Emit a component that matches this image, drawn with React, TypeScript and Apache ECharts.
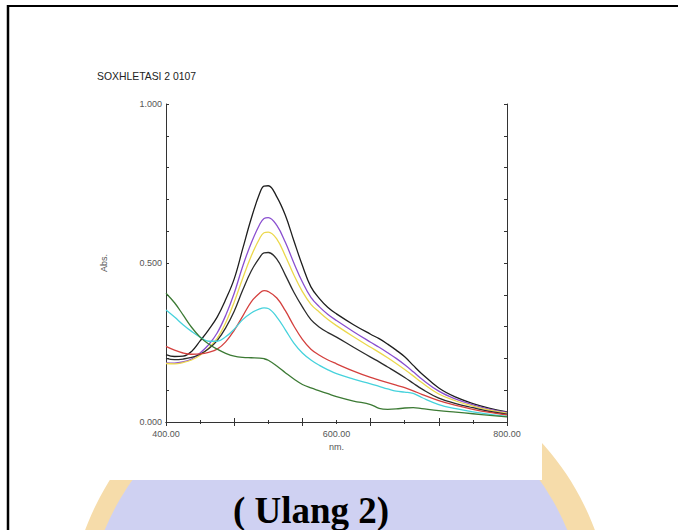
import React, { useEffect, useRef } from "react";
import * as echarts from "echarts";

const title = "SOXHLETASI 2 0107";
const caption = "( Ulang 2)";
const xTickLabels = [400, 600, 800];
const yTickLabels = [0, 0.5, 1];

const wavelength = [400, 410, 420, 430, 440, 450, 460, 470, 480, 490, 500, 510, 515, 520, 530, 540, 550, 560, 570, 580, 590, 600, 620, 640, 650, 660, 670, 680, 690, 700, 720, 740, 760, 780, 800];

const black1 = [0.212, 0.206, 0.207, 0.222, 0.255, 0.29, 0.33, 0.385, 0.45, 0.545, 0.64, 0.72, 0.742, 0.743, 0.708, 0.65, 0.57, 0.492, 0.425, 0.388, 0.36, 0.34, 0.306, 0.276, 0.262, 0.245, 0.226, 0.205, 0.178, 0.152, 0.107, 0.078, 0.058, 0.043, 0.032];
const purple = [0.186, 0.185, 0.189, 0.198, 0.217, 0.243, 0.28, 0.335, 0.405, 0.49, 0.563, 0.622, 0.64, 0.643, 0.618, 0.565, 0.5, 0.44, 0.392, 0.362, 0.338, 0.319, 0.284, 0.251, 0.235, 0.218, 0.2, 0.18, 0.158, 0.135, 0.097, 0.072, 0.054, 0.04, 0.03];
const yellow = [0.184, 0.183, 0.187, 0.195, 0.21, 0.232, 0.263, 0.312, 0.377, 0.452, 0.522, 0.578, 0.595, 0.597, 0.575, 0.522, 0.462, 0.41, 0.37, 0.345, 0.322, 0.303, 0.268, 0.235, 0.219, 0.202, 0.184, 0.165, 0.145, 0.124, 0.088, 0.066, 0.05, 0.037, 0.028];
const black2 = [0.2, 0.196, 0.198, 0.203, 0.213, 0.23, 0.256, 0.296, 0.348, 0.415, 0.475, 0.518, 0.532, 0.533, 0.512, 0.462, 0.408, 0.362, 0.322, 0.298, 0.281, 0.267, 0.235, 0.204, 0.189, 0.173, 0.157, 0.14, 0.122, 0.104, 0.075, 0.058, 0.045, 0.033, 0.025];
const red = [0.238, 0.226, 0.217, 0.213, 0.214, 0.219, 0.229, 0.252, 0.288, 0.333, 0.378, 0.406, 0.413, 0.41, 0.39, 0.35, 0.302, 0.26, 0.229, 0.21, 0.195, 0.183, 0.16, 0.14, 0.132, 0.124, 0.116, 0.108, 0.098, 0.087, 0.067, 0.052, 0.04, 0.03, 0.022];
const cyan = [0.352, 0.33, 0.306, 0.285, 0.267, 0.254, 0.254, 0.268, 0.292, 0.322, 0.343, 0.356, 0.359, 0.357, 0.33, 0.29, 0.248, 0.217, 0.195, 0.178, 0.164, 0.152, 0.135, 0.12, 0.112, 0.104, 0.097, 0.094, 0.09, 0.077, 0.055, 0.042, 0.032, 0.024, 0.018];
const green = [0.405, 0.375, 0.337, 0.298, 0.267, 0.245, 0.229, 0.216, 0.207, 0.203, 0.202, 0.201, 0.199, 0.194, 0.176, 0.155, 0.135, 0.118, 0.107, 0.098, 0.089, 0.08, 0.066, 0.055, 0.043, 0.04, 0.041, 0.044, 0.045, 0.042, 0.036, 0.031, 0.026, 0.021, 0.016];

const seriesDefs = [
  { name: "s1", values: black1, color: "#1e1e1e" },
  { name: "s2", values: purple, color: "#8a4fd0" },
  { name: "s3", values: yellow, color: "#ecd84c" },
  { name: "s4", values: black2, color: "#2c2c2c" },
  { name: "s5", values: red, color: "#d4403e" },
  { name: "s6", values: cyan, color: "#46d2dc" },
  { name: "s7", values: green, color: "#3c7a34" },
];

const labelStyle = { fontFamily: "Liberation Sans, Arial, sans-serif", fontSize: 9, color: "#555" };

export default function App() {
  const ref = useRef<HTMLDivElement>(null);
  useEffect(() => {
    if (!ref.current) return;
    const chart = echarts.init(ref.current, null, { renderer: "svg" });
    const tickLine = { color: "#333", width: 1 };
    const option: any = {
      animation: false,
      backgroundColor: "#fff",
      grid: { left: 166, top: 104, right: 171, bottom: 108, containLabel: false },
      xAxis: [
        {
          type: "value", position: "bottom", min: 400, max: 800, interval: 80,
          axisLine: { show: true, lineStyle: { color: "#333", width: 1 } },
          axisTick: { show: true, inside: true, length: 4, lineStyle: tickLine },
          minorTick: { show: true, splitNumber: 2, length: 2, lineStyle: tickLine },
          axisLabel: { show: false }, splitLine: { show: false }, minorSplitLine: { show: false },
        },
        {
          type: "value", position: "top", min: 400, max: 800, interval: 80,
          axisLine: { show: true, lineStyle: { color: "#333", width: 1 } },
          axisTick: { show: true, inside: true, length: 4, lineStyle: tickLine },
          minorTick: { show: true, splitNumber: 2, length: 2, lineStyle: tickLine },
          axisLabel: { show: false }, splitLine: { show: false },
        },
        {
          type: "value", position: "bottom", min: 400, max: 800, interval: 200,
          axisLine: { show: false }, axisTick: { show: false }, splitLine: { show: false },
          axisLabel: {
            ...labelStyle, margin: 7,
            formatter: (v: number) => (xTickLabels.includes(v) ? v.toFixed(2) : ""),
          },
          name: "nm.", nameLocation: "middle", nameGap: 18,
          nameTextStyle: { ...labelStyle },
        },
      ],
      yAxis: [
        {
          type: "value", position: "left", min: 0, max: 1, interval: 0.1,
          axisLine: { show: true, lineStyle: { color: "#333", width: 1 } },
          axisTick: { show: true, inside: true, length: 3, lineStyle: tickLine },
          splitLine: { show: false },
          axisLabel: {
            ...labelStyle, margin: 4,
            formatter: (v: number) => {
              const hit = yTickLabels.some((t) => Math.abs(t - v) < 1e-6);
              return hit ? v.toFixed(3) : "";
            },
          },
          name: "Abs.", nameLocation: "middle", nameGap: 58, nameRotate: 90,
          nameTextStyle: { ...labelStyle },
        },
        {
          type: "value", position: "right", min: 0, max: 1, interval: 0.1,
          axisLine: { show: true, lineStyle: { color: "#333", width: 1 } },
          axisTick: { show: true, inside: true, length: 3, lineStyle: tickLine },
          splitLine: { show: false }, axisLabel: { show: false },
        },
      ],
      series: seriesDefs.map((s) => ({
        name: s.name,
        type: "line",
        xAxisIndex: 0,
        yAxisIndex: 0,
        smooth: 0.4,
        symbol: "none",
        lineStyle: { color: s.color, width: 1.3 },
        data: wavelength.map((w, i) => [w, s.values[i]]),
      })),
      graphic: [
        { type: "circle", z: -5, silent: true, shape: { cx: 340, cy: 625, r: 272 }, style: { fill: "#f6dcaa" } },
        { type: "circle", z: -4, silent: true, shape: { cx: 336, cy: 625, r: 250 }, style: { fill: "#cfd1f2" } },
        { type: "rect", z: -3, silent: true, shape: { x: 0, y: 0, width: 542, height: 480 }, style: { fill: "#fff" } },
        { type: "line", z: 10, silent: true, shape: { x1: 7, y1: 6, x2: 678, y2: 6 }, style: { stroke: "#000", lineWidth: 2 } },
        { type: "line", z: 10, silent: true, shape: { x1: 8, y1: 5, x2: 8, y2: 530 }, style: { stroke: "#000", lineWidth: 2.5 } },
        {
          type: "text", z: 10, silent: true, x: 97, y: 76,
          style: { text: title, fontFamily: "Liberation Sans, Arial, sans-serif", fontSize: 10.4, fill: "#222", verticalAlign: "middle", align: "left" },
        },
        {
          type: "text", z: 10, silent: true, x: 311, y: 510,
          style: { text: caption, fontFamily: "Liberation Serif, Times New Roman, serif", fontWeight: "bold", fontSize: 37, fill: "#000", align: "center", verticalAlign: "middle" },
        },
      ],
    };
    chart.setOption(option);
    return () => chart.dispose();
  }, []);
  return <div ref={ref} style={{ position: "fixed", left: 0, top: 0, width: 678, height: 530 }} />;
}
